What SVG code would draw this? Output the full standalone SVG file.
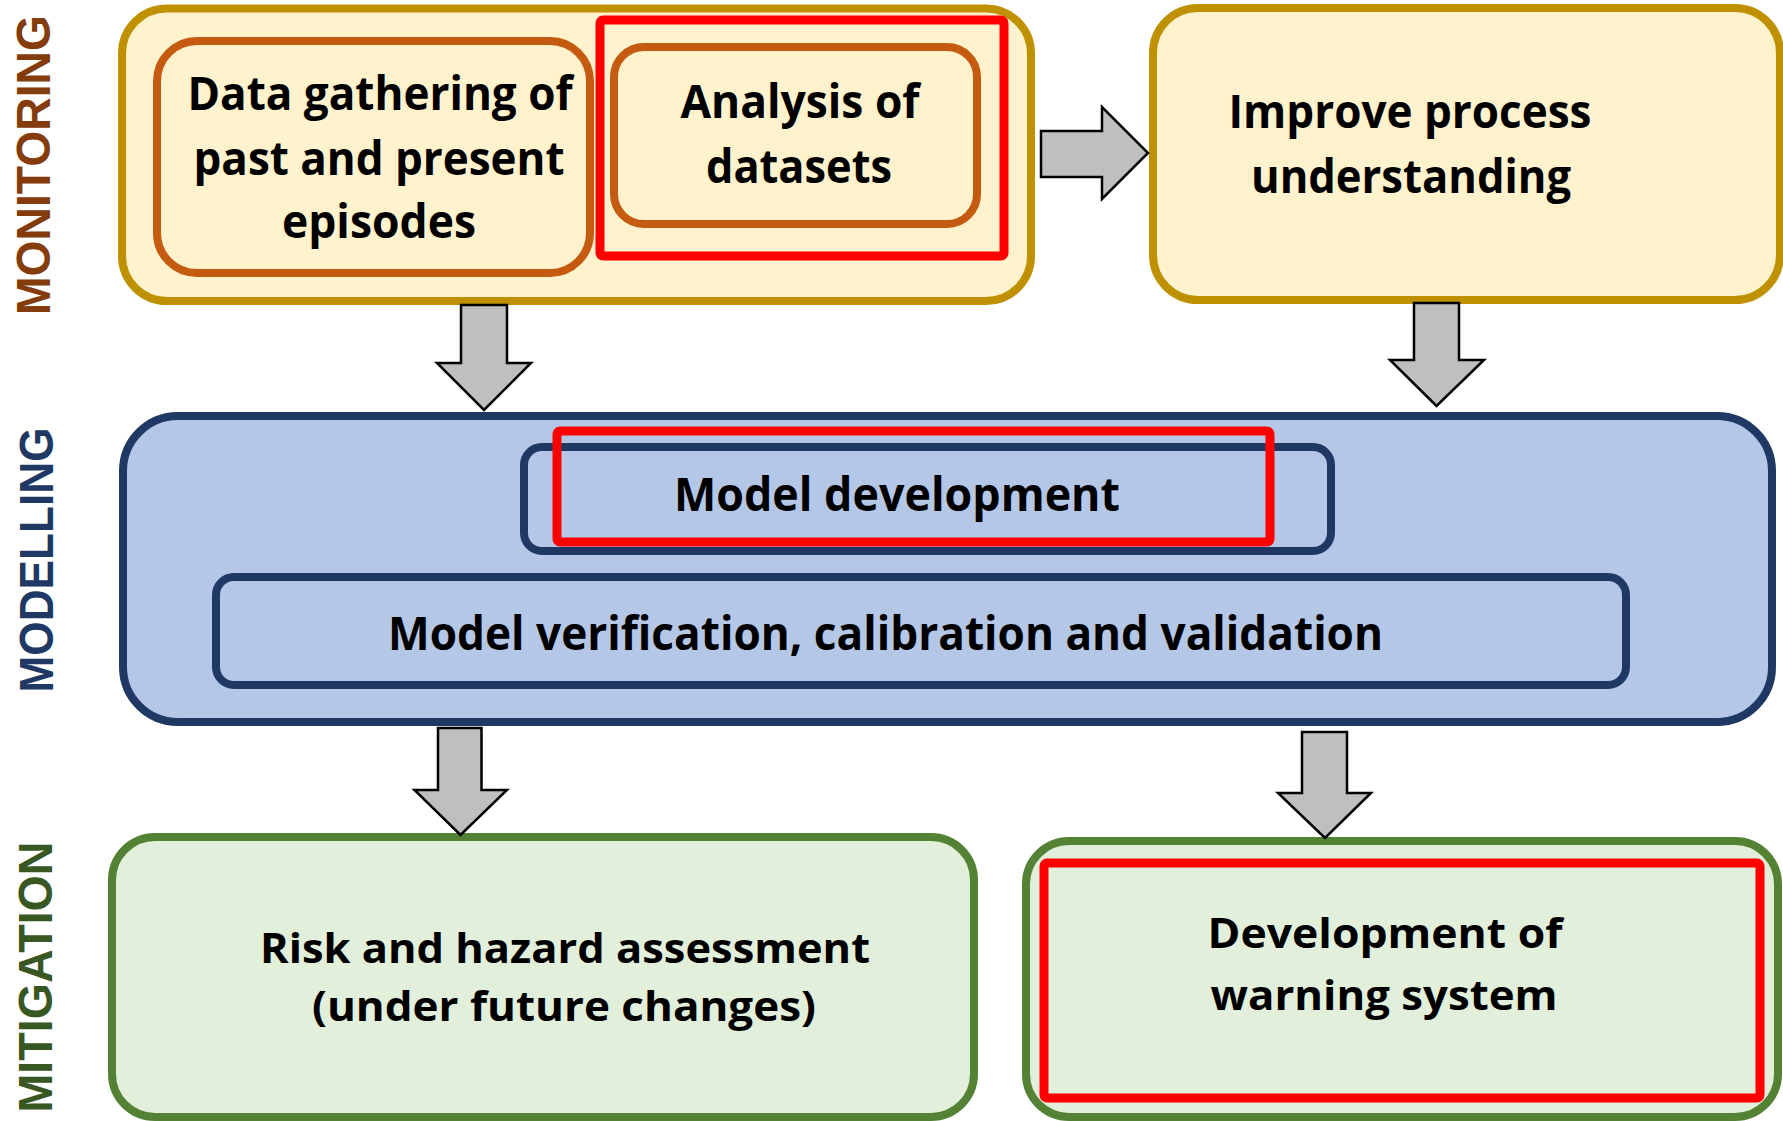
<svg xmlns="http://www.w3.org/2000/svg" width="1783" height="1121" viewBox="0 0 1783 1121">
<style>
.mon{fill:#FFF2CC;stroke:#BF9000;stroke-width:8}
.mon-in{fill:#FFF2CC;stroke:#C55A11;stroke-width:8}
.mod{fill:#B4C7E7;stroke:#203864;stroke-width:8}
.mit{fill:#E2EFDA;stroke:#548235;stroke-width:8}
.hl{fill:none;stroke:#FF0000;stroke-width:9;stroke-linejoin:round}
.arrow{fill:#BFBFBF;stroke:#000;stroke-width:2.5;stroke-linejoin:miter}
.t{font-family:"Open Sans","Noto Sans",sans-serif;font-weight:700;fill:#000;text-anchor:middle}
.big{font-size:46px}
.small{font-size:41px}
.side{font-family:"Liberation Sans",Arial,sans-serif;font-weight:700;font-size:48px;text-anchor:middle}
</style>
<rect width="1783" height="1121" fill="#FFFFFF"/>

<g id="labels">
<text class="side" fill="#843C0C" transform="translate(50,165) rotate(-90)" textLength="300" lengthAdjust="spacingAndGlyphs">MONITORING</text>
<text class="side" fill="#203864" transform="translate(53,560) rotate(-90)" textLength="265" lengthAdjust="spacingAndGlyphs">MODELLING</text>
<text class="side" fill="#385723" transform="translate(52,977) rotate(-90)" textLength="271" lengthAdjust="spacingAndGlyphs">MITIGATION</text>
</g>

<g id="monitoring">
<rect class="mon" x="122" y="8.5" width="909" height="292.5" rx="45"/>
<g id="data-gathering">
<rect class="mon-in" x="157" y="41" width="433" height="232" rx="40"/>
<text class="t big" x="380" y="110" textLength="385" lengthAdjust="spacingAndGlyphs">Data gathering of</text>
<text class="t big" x="379" y="175" textLength="371" lengthAdjust="spacingAndGlyphs">past and present</text>
<text class="t big" x="379" y="238" textLength="194" lengthAdjust="spacingAndGlyphs">episodes</text>
</g>
<g id="analysis">
<rect class="mon-in" x="614" y="47" width="363" height="177" rx="30"/>
<text class="t big" x="800" y="118" textLength="239" lengthAdjust="spacingAndGlyphs">Analysis of</text>
<text class="t big" x="799" y="183" textLength="186" lengthAdjust="spacingAndGlyphs">datasets</text>
<rect class="hl" x="600" y="20" width="404" height="236" rx="3"/>
</g>
</g>

<g id="improve">
<rect class="mon" x="1153" y="8" width="627" height="292" rx="45"/>
<text class="t big" x="1410" y="128" textLength="363" lengthAdjust="spacingAndGlyphs">Improve process</text>
<text class="t big" x="1411" y="193" textLength="320" lengthAdjust="spacingAndGlyphs">understanding</text>
</g>

<g id="modelling">
<rect class="mod" x="123" y="416" width="1649" height="306" rx="55"/>
<g id="model-development">
<rect class="mod" x="524" y="447" width="807" height="104" rx="18"/>
<text class="t big" x="897" y="511" textLength="446" lengthAdjust="spacingAndGlyphs">Model development</text>
<rect class="hl" x="557" y="431" width="713" height="111" rx="3"/>
</g>
<g id="model-verification">
<rect class="mod" x="216" y="577" width="1410" height="108" rx="18"/>
<text class="t big" x="885.5" y="650" textLength="995" lengthAdjust="spacingAndGlyphs">Model verification, calibration and validation</text>
</g>
</g>

<g id="risk">
<rect class="mit" x="112" y="837" width="862" height="280" rx="43"/>
<text class="t small" x="565" y="963" textLength="610" lengthAdjust="spacingAndGlyphs">Risk and hazard assessment</text>
<text class="t small" x="564" y="1021" textLength="504" lengthAdjust="spacingAndGlyphs">(under future changes)</text>
</g>

<g id="warning">
<rect class="mit" x="1026" y="841" width="752" height="276" rx="43"/>
<rect class="hl" x="1044" y="863" width="716" height="235" rx="3"/>
<text class="t small" x="1385" y="948" textLength="355" lengthAdjust="spacingAndGlyphs">Development of</text>
<text class="t small" x="1384" y="1010" textLength="347" lengthAdjust="spacingAndGlyphs">warning system</text>
</g>

<g id="connectors">
<polygon class="arrow" points="461,305 507,305 507,363 531,363 484,410 437,363 461,363"/>
<polygon class="arrow" points="1041,131 1102,131 1102,107 1148,153 1102,199 1102,177 1041,177"/>
<polygon class="arrow" points="1414,303 1459,303 1459,360 1484,360 1436.5,406 1390,360 1414,360"/>
<polygon class="arrow" points="438,728 481.5,728 481.5,790 507,790 460.5,835 414.5,790 438,790"/>
<polygon class="arrow" points="1302,732 1347,732 1347,793 1371,793 1325,838 1278,793 1302,793"/>
</g>
</svg>
